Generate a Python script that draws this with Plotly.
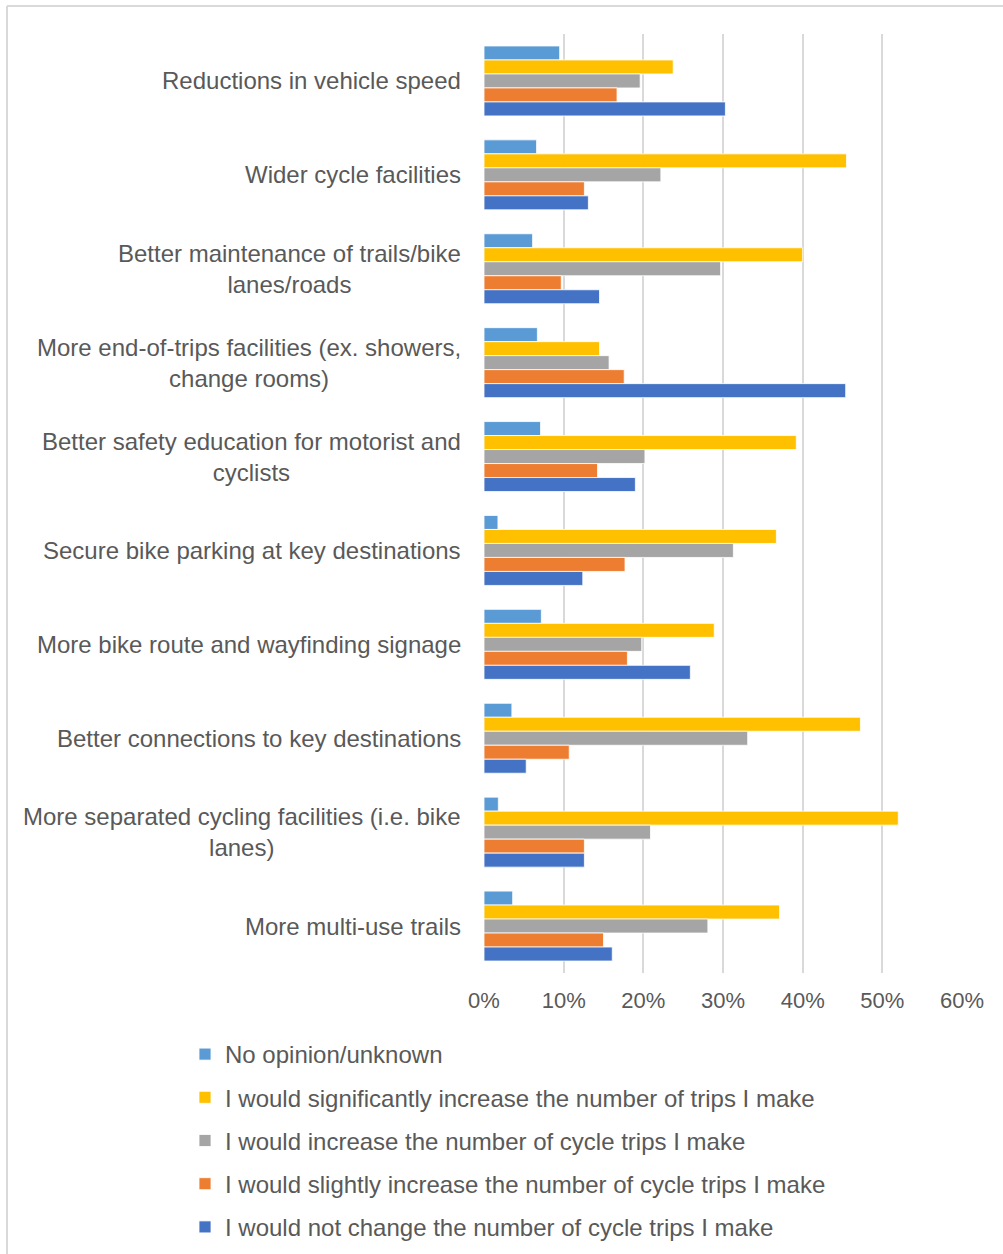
import plotly.graph_objects as go

categories = [
    "Reductions in vehicle speed",
    "Wider cycle facilities",
    "Better maintenance of trails/bike<br>lanes/roads",
    "More end-of-trips facilities (ex. showers,<br>change rooms)",
    "Better safety education for motorist and<br>cyclists",
    "Secure bike parking at key destinations",
    "More bike route and wayfinding signage",
    "Better connections to key destinations",
    "More separated cycling facilities (i.e. bike<br>lanes)",
    "More multi-use trails",
]

series_names = [
    "No opinion/unknown",
    "I would significantly increase the number of trips I make",
    "I would increase the number of cycle trips I make",
    "I would slightly increase the number of cycle trips I make",
    "I would not change the number of cycle trips I make",
]

no_opinion = [0.095, 0.066, 0.061, 0.067, 0.071, 0.0175, 0.072, 0.035, 0.018, 0.036]
significantly = [0.2375, 0.455, 0.400, 0.145, 0.392, 0.367, 0.289, 0.4725, 0.520, 0.371]
increase = [0.196, 0.222, 0.297, 0.157, 0.202, 0.313, 0.198, 0.331, 0.209, 0.281]
slightly = [0.167, 0.126, 0.097, 0.176, 0.1425, 0.177, 0.180, 0.107, 0.126, 0.150]
not_change = [0.303, 0.131, 0.145, 0.454, 0.190, 0.124, 0.259, 0.053, 0.126, 0.161]

colors = ["#5B9BD5", "#FFC000", "#A5A5A5", "#ED7D31", "#4472C4"]
values = [no_opinion, significantly, increase, slightly, not_change]

W, H = 1003, 1254
L, R, T, B = 484, 41, 34, 281
FONT = "Liberation Sans, Arial, sans-serif"
TXT = "#595959"

fig = go.Figure()
for i, (name, vals, col) in enumerate(zip(series_names, values, colors)):
    fig.add_trace(go.Bar(
        y=categories, x=vals, name=name, orientation="h",
        marker=dict(color=col, line=dict(color="white", width=0.8)),
        legendgroup=f"g{i}",
    ))

for c in categories:
    fig.add_annotation(
        x=0, xref="paper", xanchor="right", xshift=-21,
        y=c, yref="y", yanchor="middle",
        text=c, showarrow=False, align="center",
        font=dict(family=FONT, size=24, color=TXT),
    )

pw = W - L - R
ph = H - T - B
def px_x(p):
    return (p - L) / pw
def px_y(p):
    return (H - B - p) / ph

fig.add_shape(type="line", xref="paper", yref="paper",
              x0=px_x(7), x1=px_x(1003), y0=px_y(6), y1=px_y(6),
              line=dict(color="#D9D9D9", width=2))
fig.add_shape(type="line", xref="paper", yref="paper",
              x0=px_x(7), x1=px_x(7), y0=px_y(6), y1=px_y(1254),
              line=dict(color="#D9D9D9", width=2))

fig.update_layout(
    width=W, height=H,
    margin=dict(l=L, r=R, t=T, b=B, autoexpand=False),
    paper_bgcolor="white", plot_bgcolor="white",
    barmode="group", bargap=0.255, bargroupgap=0,
    font=dict(family=FONT, size=24, color=TXT),
    showlegend=True,
    legend=dict(
        orientation="v", x=px_x(185), xanchor="left",
        y=px_y(1032), yanchor="top",
        font=dict(family=FONT, size=24, color=TXT),
        tracegroupgap=9, itemwidth=30,
        traceorder="grouped",
    ),
)
fig.update_xaxes(
    range=[0, 0.6], tickvals=[0, 0.1, 0.2, 0.3, 0.4, 0.5, 0.6],
    tickformat=".0%", showgrid=True, gridcolor="#D9D9D9", gridwidth=2,
    zeroline=False, showline=False, ticks="", ticklabelstandoff=12,
    tickfont=dict(family=FONT, size=22, color=TXT),
)
fig.update_yaxes(
    autorange="reversed", showticklabels=False, showgrid=False,
    zeroline=False, showline=False, ticks="",
)

fig.write_html("out.html")
